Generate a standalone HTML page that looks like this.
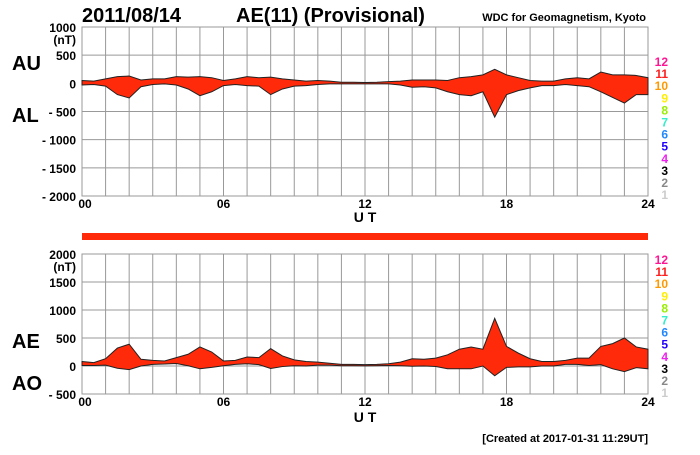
<!DOCTYPE html>
<html><head><meta charset="utf-8">
<style>
body{margin:0;background:#fff;}
svg text{font-family:"Liberation Sans",Arial,sans-serif;}
</style></head>
<body>
<svg id="chart" width="700" height="450" xmlns="http://www.w3.org/2000/svg">
<rect width="700" height="450" fill="#fff"/>
<text x="82" y="22" font-size="20" font-weight="bold">2011/08/14</text>
<text x="236" y="22" font-size="20" font-weight="bold">AE(11) (Provisional)</text>
<text x="646" y="21" font-size="11" font-weight="bold" text-anchor="end">WDC for Geomagnetism, Kyoto</text>
<g id="top"></g>
<g id="bot"></g>
<rect x="82" y="233" width="566" height="7" fill="#ff2a0a"/>
<text x="12" y="70" font-size="20" font-weight="bold">AU</text>
<text x="12" y="122" font-size="20" font-weight="bold">AL</text>
<text x="12" y="348" font-size="20" font-weight="bold">AE</text>
<text x="12" y="390" font-size="20" font-weight="bold">AO</text>
<text x="365" y="222" font-size="14" font-weight="bold" text-anchor="middle">U T</text>
<text x="365" y="422" font-size="14" font-weight="bold" text-anchor="middle">U T</text>
<text x="648" y="442" font-size="11" font-weight="bold" text-anchor="end">[Created at 2017-01-31 11:29UT]</text>
</svg>
<script>
const hours=[0,0.5,1,1.5,2,2.5,3,3.5,4,4.5,5,5.5,6,6.5,7,7.5,8,8.5,9,9.5,10,10.5,11,11.5,12,12.5,13,13.5,14,14.5,15,15.5,16,16.5,17,17.5,18,18.5,19,19.5,20,20.5,21,21.5,22,22.5,23,23.5,24];
const au=[50,40,80,120,130,60,80,80,120,110,120,100,50,80,120,100,110,80,60,40,50,40,20,20,15,20,30,40,60,60,60,50,100,120,150,250,150,100,50,40,40,80,100,80,200,150,150,140,100];
const al=[-30,-20,-50,-200,-260,-60,-20,-10,-30,-100,-220,-150,-40,-20,-40,-50,-200,-100,-50,-40,-20,-10,-10,-10,-10,-10,-10,-30,-70,-60,-80,-150,-200,-220,-150,-600,-200,-130,-80,-40,-40,-20,-40,-60,-150,-250,-350,-200,-200];
const topTicks=[1000,500,0,-500,-1000,-1500,-2000];
const botTicks=[2000,1500,1000,500,0,-500];
const xTicks=[0,6,12,18,24];
const xTickLabels=["00","06","12","18","24"];
const levelLabels=["12","11","10","9","8","7","6","5","4","3","2","1"];
const levelColors=["#ff1493","#ff2020","#ff9900","#ffee00","#99ee00","#33eecc","#2288ff","#2200ff","#ee22ee","#000000","#888888","#cccccc"];

const NS="http://www.w3.org/2000/svg";
const X0=82,X1=648;
const xs=h=>X0+(X1-X0)*h/24;
const yTop=v=>27+(1000-v)*(196-27)/3000;
const yBot=v=>254+(2000-v)*(394-254)/2500;
function mk(tag,attrs,parent){const e=document.createElementNS(NS,tag);for(const k in attrs)e.setAttribute(k,attrs[k]);parent.appendChild(e);return e;}

function panel(g,ys,ticks,hi,lo,prefix,legTop){
  mk('rect',{x:X0,y:ys(ticks[0]),width:X1-X0,height:ys(ticks[ticks.length-1])-ys(ticks[0]),fill:'#fff',stroke:'#999','stroke-width':1},g);
  for(let h=1;h<24;h++){const l=mk('line',{x1:xs(h),x2:xs(h),y1:ys(ticks[0]),y2:ys(ticks[ticks.length-1]),stroke:'#999','stroke-width':1},g);
    
    }
  ticks.forEach((t,i)=>{
    const l=mk('line',{x1:X0,x2:X1,y1:ys(t),y2:ys(t),stroke:'#999','stroke-width':1},g);
    
    
    const lab=(t<0?'- '+(-t):String(t));
    const tx=mk('text',{x:76,y:ys(t)+5,'font-size':12,'font-weight':'bold','text-anchor':'end'},g);
    tx.textContent=lab;
    
    
  });
  const nt=mk('text',{x:76,y:ys(ticks[0])+17,'font-size':12,'font-weight':'bold','text-anchor':'end'},g);
  nt.textContent='(nT)';
  
  
  xTicks.forEach((h,i)=>{
    const tx=mk('text',{x:xs(h)+(i===0?3:0),y:ys(ticks[ticks.length-1])+12,'font-size':12,'font-weight':'bold','text-anchor':'middle'},g);
    tx.textContent=xTickLabels[i];
    
    
  });
  let pts=hours.map((h,i)=>xs(h)+','+ys(hi[i]));
  for(let i=hours.length-1;i>=0;i--)pts.push(xs(hours[i])+','+ys(lo[i]));
  const p=mk('polygon',{points:pts.join(' '),fill:'#ff2a0a',stroke:'#222','stroke-width':1},g);
  
  
  levelLabels.forEach((s,i)=>{
    const tx=mk('text',{x:668,y:legTop+i*12.1,'font-size':12,'font-weight':'bold','text-anchor':'end',fill:levelColors[i]},g);
    tx.textContent=s;
    
    
  });
}
const ae=au.map((v,i)=>v-al[i]);
const ao=au.map((v,i)=>(v+al[i])/2);
panel(document.getElementById('top'),yTop,topTicks,au,al,'au-al',66);
panel(document.getElementById('bot'),yBot,botTicks,ae,ao,'ae-ao',264);
</script>
</body></html>
